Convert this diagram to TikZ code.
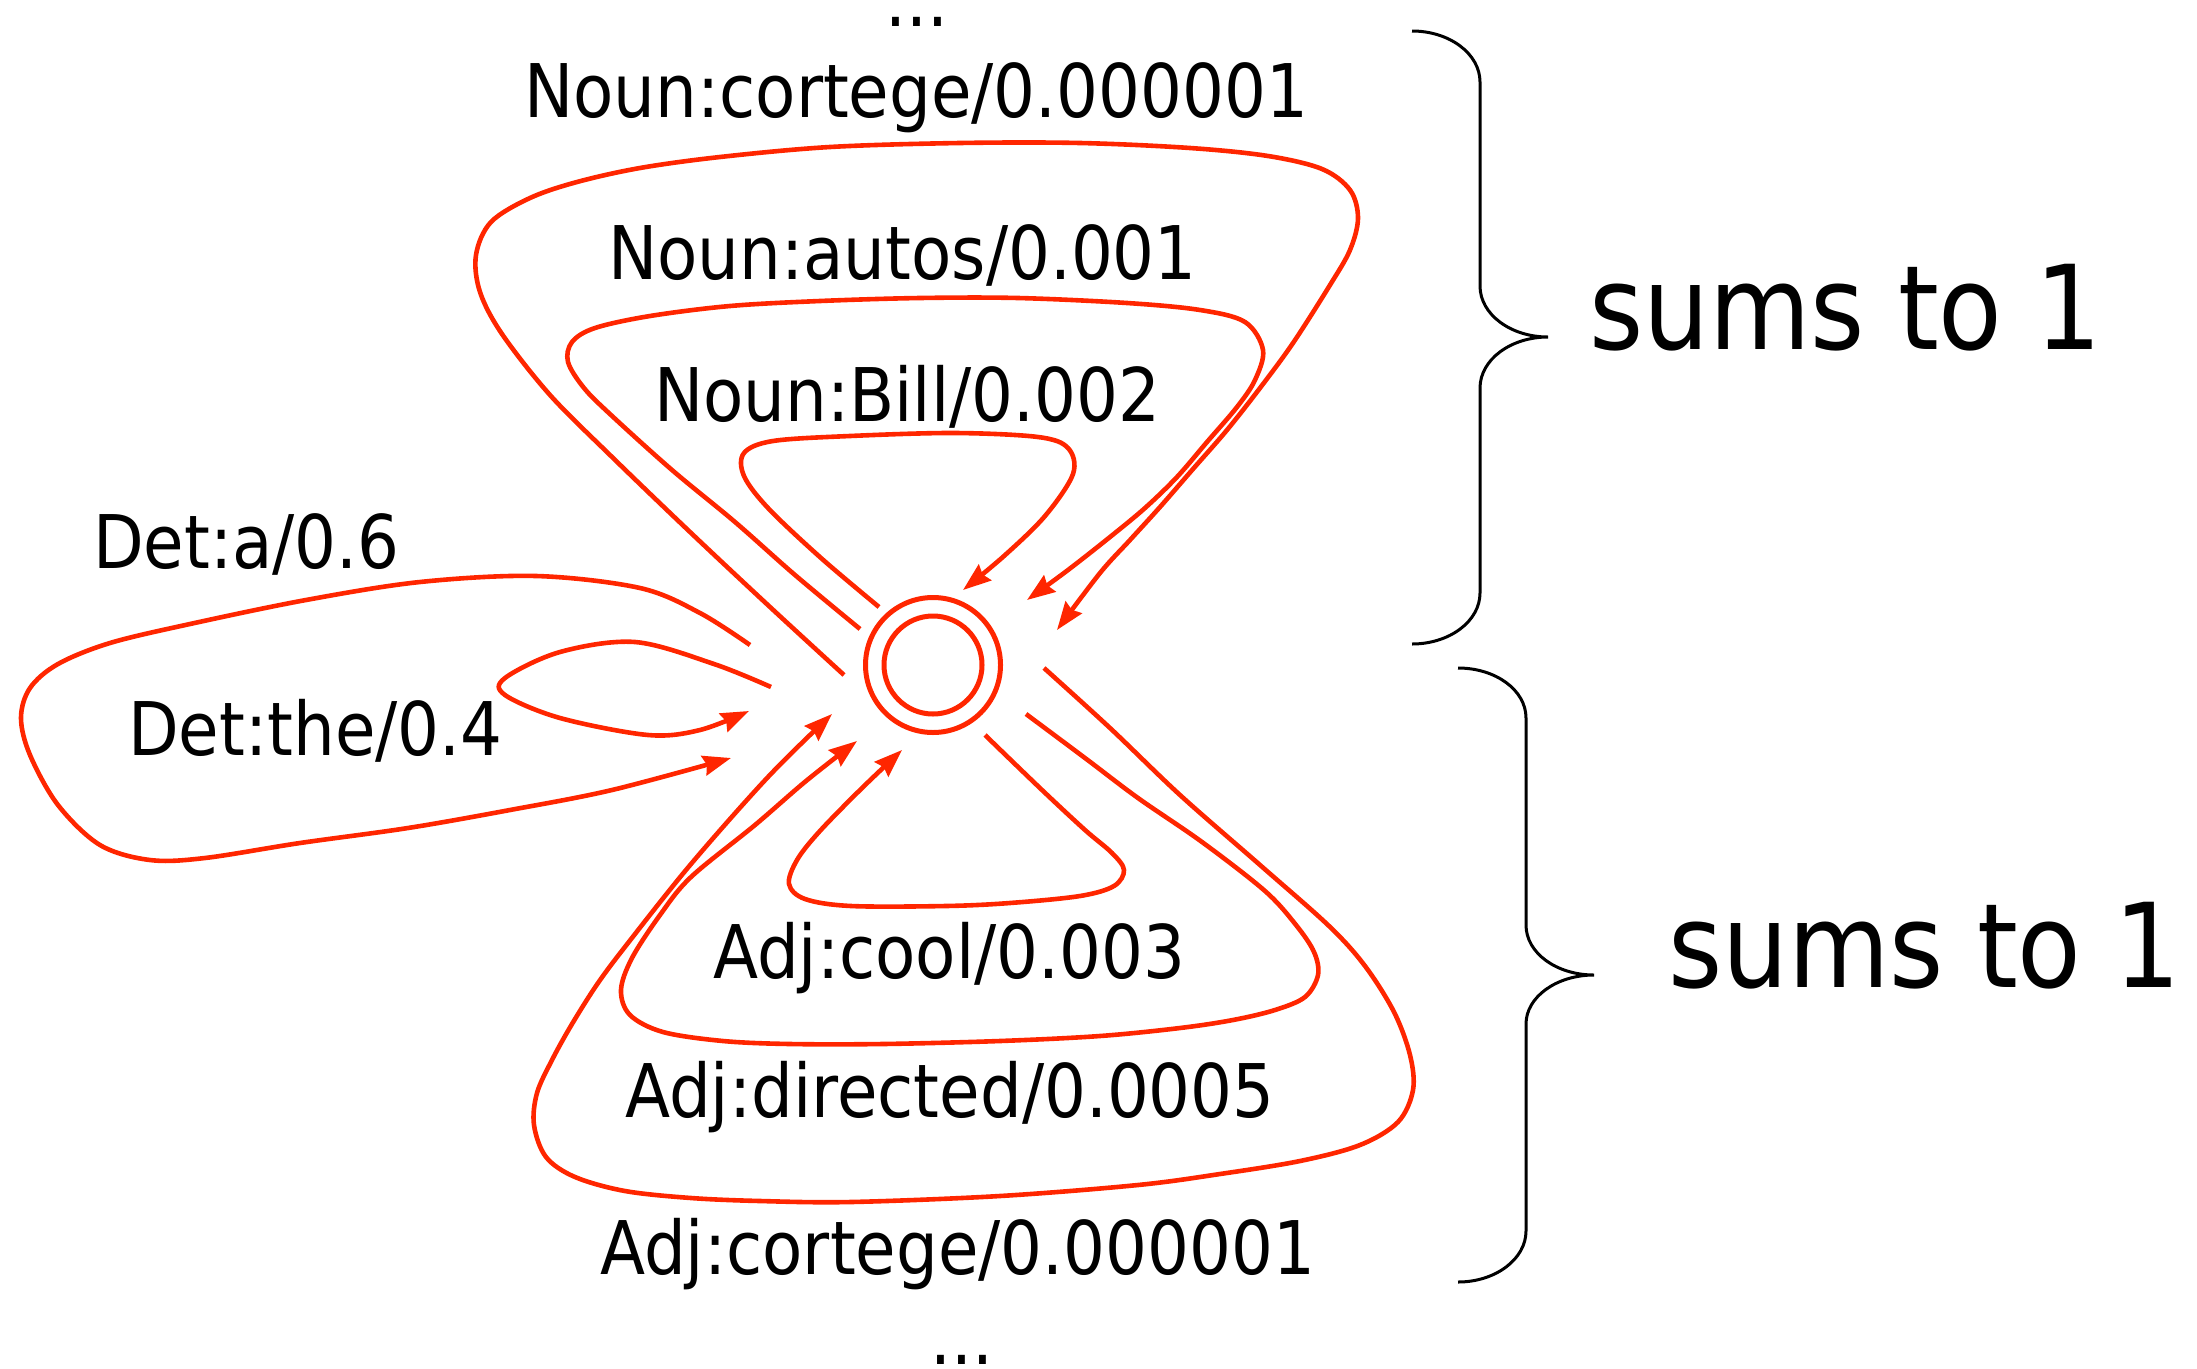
\documentclass[tikz,border=0pt]{standalone}
\usepackage{fontspec}
\setmainfont[FakeStretch=0.89]{DejaVu Sans}
\usetikzlibrary{arrows.meta}
\definecolor{fsared}{RGB}{255,38,0}
\begin{document}
\begin{tikzpicture}[x=1pt,y=-1pt,
  lbl/.style={inner sep=0pt, anchor=base west, font=\fontsize{74}{80}\selectfont},
  dots/.style={inner sep=0pt, anchor=base, font=\fontsize{74}{80}\selectfont},
  bigl/.style={inner sep=0pt, anchor=base west, font=\fontsize{117}{120}\selectfont},
  loopline/.style={draw=fsared, line width=4.6pt, line join=round,
    -{Stealth[length=28pt,width=20pt,inset=3pt]}},
  bracepath/.style={draw=black, line width=3pt},
  statering/.style={circle, draw=fsared, line width=5pt, inner sep=0pt}]
\useasboundingbox (0,0) rectangle (2197,1368);

% state
\node[statering, minimum size=135pt] (s) at (933,665) {};
\node[statering, minimum size=98pt] (sin) at (s.center) {};

% free ends (tails and heads)
\coordinate (billt) at (879,607);   \coordinate (billh) at (963,590);
\coordinate (autot) at (860,629);   \coordinate (autoh) at (1027,600);
\coordinate (ncort) at (844,675);   \coordinate (ncorh) at (1057,630);
\coordinate (deat) at (750,645);    \coordinate (deah) at (731,758);
\coordinate (thet) at (771,687);    \coordinate (theh) at (749,711);
\coordinate (coolt) at (985,735);   \coordinate (coolh) at (902,750);
\coordinate (dirt) at (1026,714);   \coordinate (dirh) at (857,741);
\coordinate (acort) at (1044,668);  \coordinate (acorh) at (832,714);

% Noun loops
\draw[loopline] plot[smooth, tension=0.55] coordinates {(billt) (821,558) (768,508) (744,476) (744,453) (773,441) (850,436) (954,433) (1038,437) (1068,448) (1073,474) (1045,516) (1004,556) (billh)};
\draw[loopline] plot[smooth, tension=0.55] coordinates {(autot) (795,575) (735,522) (672,470) (611,415) (584,388) (568,362) (572,342) (595,328) (650,316) (730,306) (820,301) (920,298) (1018,298) (1127,303) (1200,310) (1245,322) (1263,350) (1255,380) (1237,407) (1207,442) (1177,477) (1145,508) (1110,537) (1068,570) (autoh)};
\draw[loopline] plot[smooth, tension=0.55] coordinates {(ncort) (770,607) (690,532) (611,456) (550,395) (502,334) (480,292) (476,255) (491,222) (530,198) (577,182) (640,168) (720,157) (830,147) (960,143) (1080,143) (1190,148) (1268,156) (1322,169) (1350,190) (1358,218) (1350,250) (1330,285) (1293,343) (1260,388) (1227,430) (1193,469) (1160,507) (1130,540) (1100,573) (ncorh)};

% Det loops
\draw[loopline] plot[smooth, tension=0.55] coordinates {(deat) (700,613) (640,588) (536,576) (420,582) (306,600) (190,624) (110,643) (58,664) (30,688) (21,718) (30,755) (58,805) (100,845) (150,860) (205,858) (300,843) (408,828) (510,810) (612,790) (deah)};
\draw[loopline] plot[smooth, tension=0.55] coordinates {(thet) (714,664) (635,642) (560,652) (505,678) (505,695) (560,718) (648,735) (700,730) (theh)};

% Adj loops
\draw[loopline] plot[smooth, tension=0.55] coordinates {(coolt) (1042,790) (1085,830) (1112,853) (1124,870) (1114,886) (1080,896) (1010,903) (946,906) (851,906) (805,899) (789,884) (797,860) (819,832) (860,790) (coolh)};
\draw[loopline] plot[smooth, tension=0.55] coordinates {(dirt) (1085,758) (1138,798) (1202,842) (1265,891) (1296,925) (1314,952) (1318,975) (1305,997) (1275,1010) (1233,1020) (1180,1028) (1100,1036) (1000,1041) (883,1044) (790,1044) (723,1041) (663,1032) (630,1015) (621,990) (632,958) (660,915) (691,877) (755,825) (806,781) (dirh)};
\draw[loopline] plot[smooth, tension=0.55] coordinates {(acort) (1110,728) (1180,795) (1260,865) (1329,926) (1365,966) (1394,1012) (1410,1055) (1413,1090) (1398,1122) (1360,1145) (1300,1161) (1220,1174) (1138,1185) (1000,1196) (851,1202) (760,1201) (691,1198) (625,1191) (575,1177) (546,1157) (534,1125) (537,1093) (552,1060) (572,1024) (598,983) (628,943) (691,864) (768,777) (acorh)};

% labels
\node[dots] (dtop) at (917,26) {...};
\node[lbl] (lncor) at (524,117) {Noun:cortege/0.000001};
\node[lbl] (lauto) at (608,279) {Noun:autos/0.001};
\node[lbl] (lbill) at (654,421) {Noun:Bill/0.002};
\node[lbl] (ldea) at (93,568) {Det:a/0.6};
\node[lbl] (lthe) at (128,755) {Det:the/0.4};
\node[lbl] (lcool) at (713,978) {Adj:cool/0.003};
\node[lbl] (ldir) at (625,1117) {Adj:directed/0.0005};
\node[lbl] (lacor) at (600,1274) {Adj:cortege/0.000001};
\node[dots] (dbot) at (962,1364) {...};

% braces
\coordinate (ba0) at (1412,31);
\coordinate (ba3) at (1548,337);
\coordinate (ba6) at (1412,644);
\draw[bracepath] (ba0) .. controls (1449.5,31) and (1480,53.8) .. (1480,82)
  -- (1480,286) .. controls (1480,314.2) and (1510.5,337) .. (ba3)
  .. controls (1510.5,337) and (1480,359.8) .. (1480,388)
  -- (1480,593) .. controls (1480,621.2) and (1449.5,644) .. (ba6);
\coordinate (bb0) at (1458,668);
\coordinate (bb3) at (1594,975);
\coordinate (bb6) at (1458,1282);
\draw[bracepath] (bb0) .. controls (1495.5,668) and (1526,690) .. (1526,718)
  -- (1526,925) .. controls (1526,953) and (1556.5,975) .. (bb3)
  .. controls (1556.5,975) and (1526,997) .. (1526,1024)
  -- (1526,1231) .. controls (1526,1259) and (1495.5,1282) .. (bb6);

\node[bigl] (sum1) at (1589,349) {sums to 1};
\node[bigl] (sum2) at (1668,987) {sums to 1};
\end{tikzpicture}
\end{document}
